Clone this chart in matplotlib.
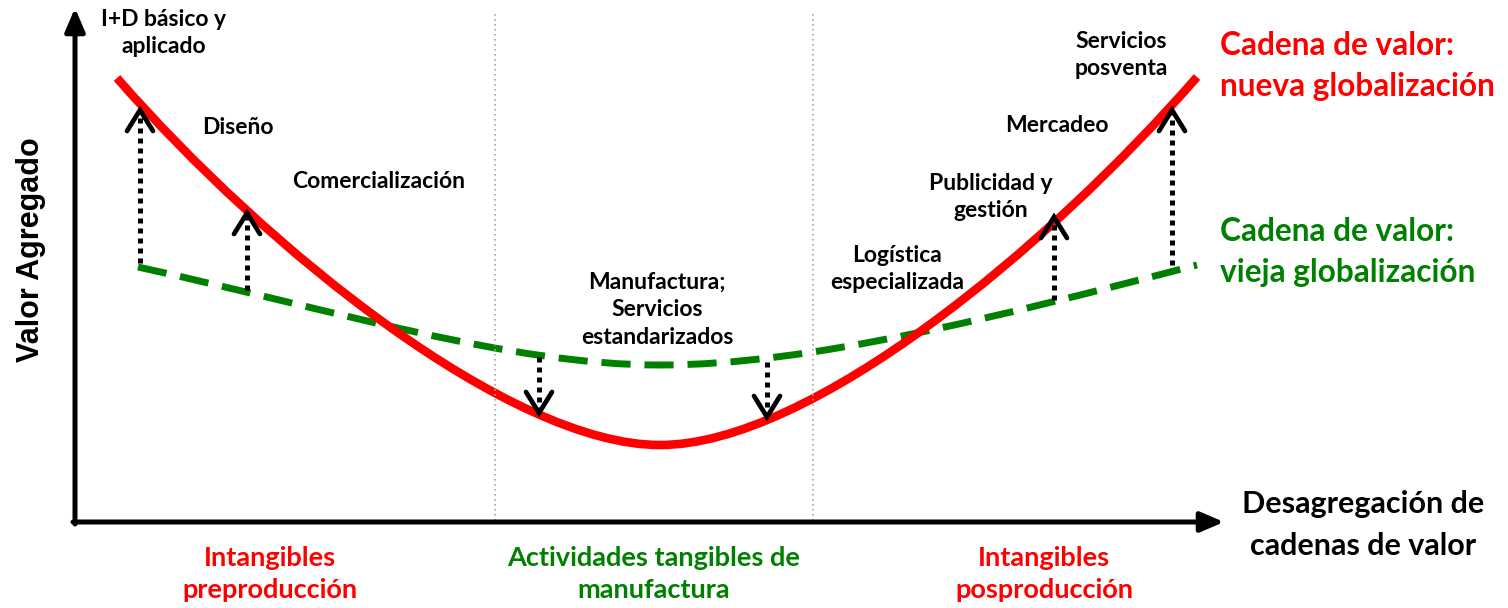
import matplotlib
matplotlib.use("Agg")
import matplotlib.pyplot as plt
from matplotlib.path import Path
from matplotlib.patches import PathPatch

# curve control points (pixel coords, y down)
red_pts = [(117, 78), (267, 250), (510, 445), (660, 445),
           (810, 445), (1047, 249), (1197, 77)]
green_pts = [(138, 267), (338, 311), (510, 365), (660, 365),
             (810, 365), (997, 317), (1197, 265)]

# vertical arrows: x, start y, tip y
arrow_x = [140, 247, 1054, 1172, 539, 767]
arrow_from = [263, 290, 300, 265, 357, 362]
arrow_tip = [110, 213, 217, 110, 413, 417]

# section separators
sep_x = [495, 813]

# labels along the curve
curve_labels = ["I+D básico y\naplicado", "Diseño", "Comercialización",
                "Manufactura;\nServicios\nestandarizados",
                "Logística\nespecializada", "Publicidad y\ngestión",
                "Mercadeo", "Servicios\nposventa"]
curve_label_xy = [(164, 33), (238, 127), (379, 182), (657, 310),
                  (897, 269), (991, 197), (1057, 125), (1121, 55)]

section_labels = ["Intangibles\npreproducción",
                  "Actividades tangibles de\nmanufactura",
                  "Intangibles\nposproducción"]
section_x = [270, 654, 1044]
section_colors = ["#ff0000", "#008000", "#ff0000"]

RED = "#ff0000"
GREEN = "#008000"
FONT = "Lato"

fig = plt.figure(figsize=(15.08, 6.08), dpi=100)
ax = fig.add_axes([0, 0, 1, 1])
ax.set_xlim(0, 1508)
ax.set_ylim(608, 0)
ax.axis("off")

# axes with arrows
ax.annotate("", xy=(75, 8), xytext=(75, 524),
            arrowprops=dict(arrowstyle="-|>,head_length=1.4,head_width=0.6",
                            lw=3.6, color="black", shrinkA=0, shrinkB=0))
ax.annotate("", xy=(1224, 522), xytext=(73, 522),
            arrowprops=dict(arrowstyle="-|>,head_length=1.4,head_width=0.6",
                            lw=3.6, color="black", shrinkA=0, shrinkB=0))

for x in sep_x:
    ax.plot([x, x], [14, 520], ls=(0, (1, 2)), color="#a6a6a6", lw=1.2)

codes = [Path.MOVETO] + [Path.CURVE4] * 6
ax.add_patch(PathPatch(Path(green_pts, codes), fill=False, edgecolor=GREEN,
                       lw=5.0, linestyle=(0, (4.2, 2.0)), capstyle="butt"))
ax.add_patch(PathPatch(Path(red_pts, codes), fill=False, edgecolor=RED,
                       lw=6.2, capstyle="butt"))

# dotted arrows with open heads
for x, y0, y1 in zip(arrow_x, arrow_from, arrow_tip):
    d = 1 if y1 < y0 else -1
    ax.plot([x, x], [y0, y1 + d * 4], color="black", lw=3.6,
            ls=(0, (1, 1)), solid_capstyle="butt", dash_capstyle="butt")
    ax.plot([x - 13, x, x + 13], [y1 + d * 21, y1, y1 + d * 21],
            color="black", lw=3.4, solid_capstyle="round",
            solid_joinstyle="miter")

for txt, (x, y) in zip(curve_labels, curve_label_xy):
    ax.text(x, y, txt, ha="center", va="center", fontsize=16.5,
            fontweight="bold", family=FONT, linespacing=1.38)

ax.text(1220, 66, "Cadena de valor:\nnueva globalización", ha="left",
        va="center", fontsize=22.8, fontweight="bold", family=FONT,
        color=RED, linespacing=1.5)
ax.text(1220, 252, "Cadena de valor:\nvieja globalización", ha="left",
        va="center", fontsize=22.8, fontweight="bold", family=FONT,
        color=GREEN, linespacing=1.5)

ax.text(1363, 525, "Desagregación de\ncadenas de valor", ha="center",
        va="center", fontsize=22, fontweight="bold", family=FONT,
        linespacing=1.58)

ax.text(31, 250, "Valor Agregado", rotation=90, ha="center", va="center",
        fontsize=22, fontweight="bold", family="Liberation Sans")

for txt, x, c in zip(section_labels, section_x, section_colors):
    ax.text(x, 574, txt, ha="center", va="center", fontsize=19.5,
            fontweight="bold", family=FONT, color=c, linespacing=1.4)

fig.savefig("out.png", dpi=100)
